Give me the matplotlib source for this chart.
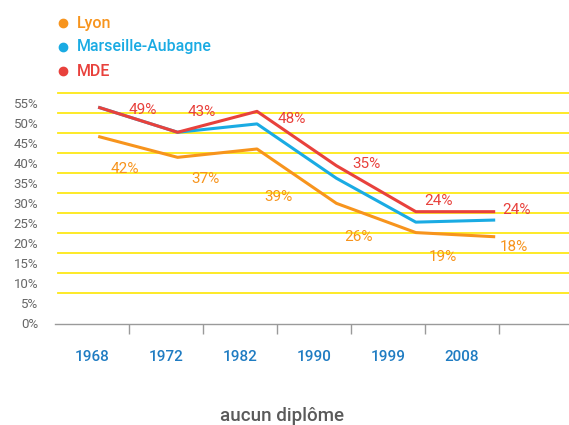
import matplotlib
matplotlib.use("Agg")
import matplotlib.pyplot as plt

plt.rcParams['font.family'] = ['Roboto', 'DejaVu Sans']

years = ["1968", "1972", "1982", "1990", "1999", "2008"]
lyon = [42, 37, 39, 26, 19, 18]
marseille = [49, 43, 45, 32, 21.5, 22]
mde = [49, 43, 48, 35, 24, 24]
y_ticks = [0, 5, 10, 15, 20, 25, 30, 35, 40, 45, 50, 55]
series_names = ["Lyon", "Marseille-Aubagne", "MDE"]
title = "aucun diplôme"

C_LYON = "#f7941d"
C_MARS = "#1aabe3"
C_MDE = "#e8413c"
C_YEAR = "#1f7cc2"
C_GRID = "#fde817"
C_GREY = "#666666"

W, H = 569, 425
fig = plt.figure(figsize=(W / 100, H / 100), dpi=100)

def px_axes(left, top, width, height):
    return fig.add_axes([left / W, 1 - (top + height) / H, width / W, height / H])

# main axes (tick labels, grid, x axis)
ax = px_axes(55, 83.5, 518, 240)
ax.set_xlim(-0.5, 6.5)
ax.set_ylim(0, 60)
for s in ["top", "right", "left"]:
    ax.spines[s].set_visible(False)
ax.spines["bottom"].set_color("#9a9a9a")
ax.spines["bottom"].set_linewidth(1.0)
for t in y_ticks[1:]:
    ax.axhline(t + 2.75, xmin=0.006, xmax=1, color=C_GRID, lw=1.3, zorder=0)
ax.set_yticks(y_ticks)
ax.set_yticklabels([f"{t}%" for t in y_ticks], fontsize=9.5, color=C_GREY)
ax.tick_params(axis="y", length=0, pad=12)
ax.set_xticks([i + 0.5 for i in range(len(years))])
ax.set_xticklabels([])
ax.tick_params(axis="x", which="major", length=7, width=1, color="#9a9a9a", direction="out")
ax.set_xticks(range(len(years)), minor=True)
ax.set_xticklabels(years, minor=True, fontsize=11, color=C_YEAR, fontweight="medium")
ax.tick_params(axis="x", which="minor", length=0, pad=19)

# overlay axes for the lines
ov = px_axes(58.5, 61.2, 476.4, 250.8)
ov.set_xlim(-0.5, 5.5)
ov.set_ylim(0, 60)
ov.axis("off")
ov.patch.set_alpha(0)
x = list(range(len(years)))
ov.plot(x, lyon, color=C_LYON, lw=2.2, solid_capstyle="butt", zorder=3)
ov.plot(x, marseille, color=C_MARS, lw=2.2, solid_capstyle="butt", zorder=3)
ov.plot(x, mde, color=C_MDE, lw=2.2, solid_capstyle="butt", zorder=4)

mde_off = [(45, -3), (24, 20.6), (34.7, -7.9), (30.3, 1.7), (22.5, 11), (21.5, 1.7)]
lyon_off = [(26.8, -32.6), (28.1, -22), (21.3, -47.7), (21.9, -33.4), (26.9, -24.7), (19.1, -9.9)]
for i, v in enumerate(mde):
    ov.annotate(f"{v}%", (i, v), xytext=mde_off[i], textcoords="offset pixels",
                ha="center", va="center", fontsize=11, color=C_MDE, zorder=5)
for i, v in enumerate(lyon):
    ov.annotate(f"{v}%", (i, v), xytext=lyon_off[i], textcoords="offset pixels",
                ha="center", va="center", fontsize=11, color=C_LYON, zorder=5)

# legend
dots_y = [23.3, 46.7, 70.7]
base_y = [28.3, 50.7, 76.0]
for name, col, dy, by in zip(series_names, [C_LYON, C_MARS, C_MDE], dots_y, base_y):
    fig.add_artist(plt.Line2D([63 / W], [1 - dy / H], marker="o", markersize=6,
                              color=col, linestyle="none", transform=fig.transFigure))
    fig.text(76.5 / W, 1 - by / H, name, color=col, fontsize=11.5, fontweight="medium",
             ha="left", va="baseline")

fig.text(282.5 / W, 1 - 421 / H, title, color="#5a5a5a", fontsize=13.5, fontweight="medium",
         ha="center", va="baseline")

fig.savefig("out.png", dpi=100)
